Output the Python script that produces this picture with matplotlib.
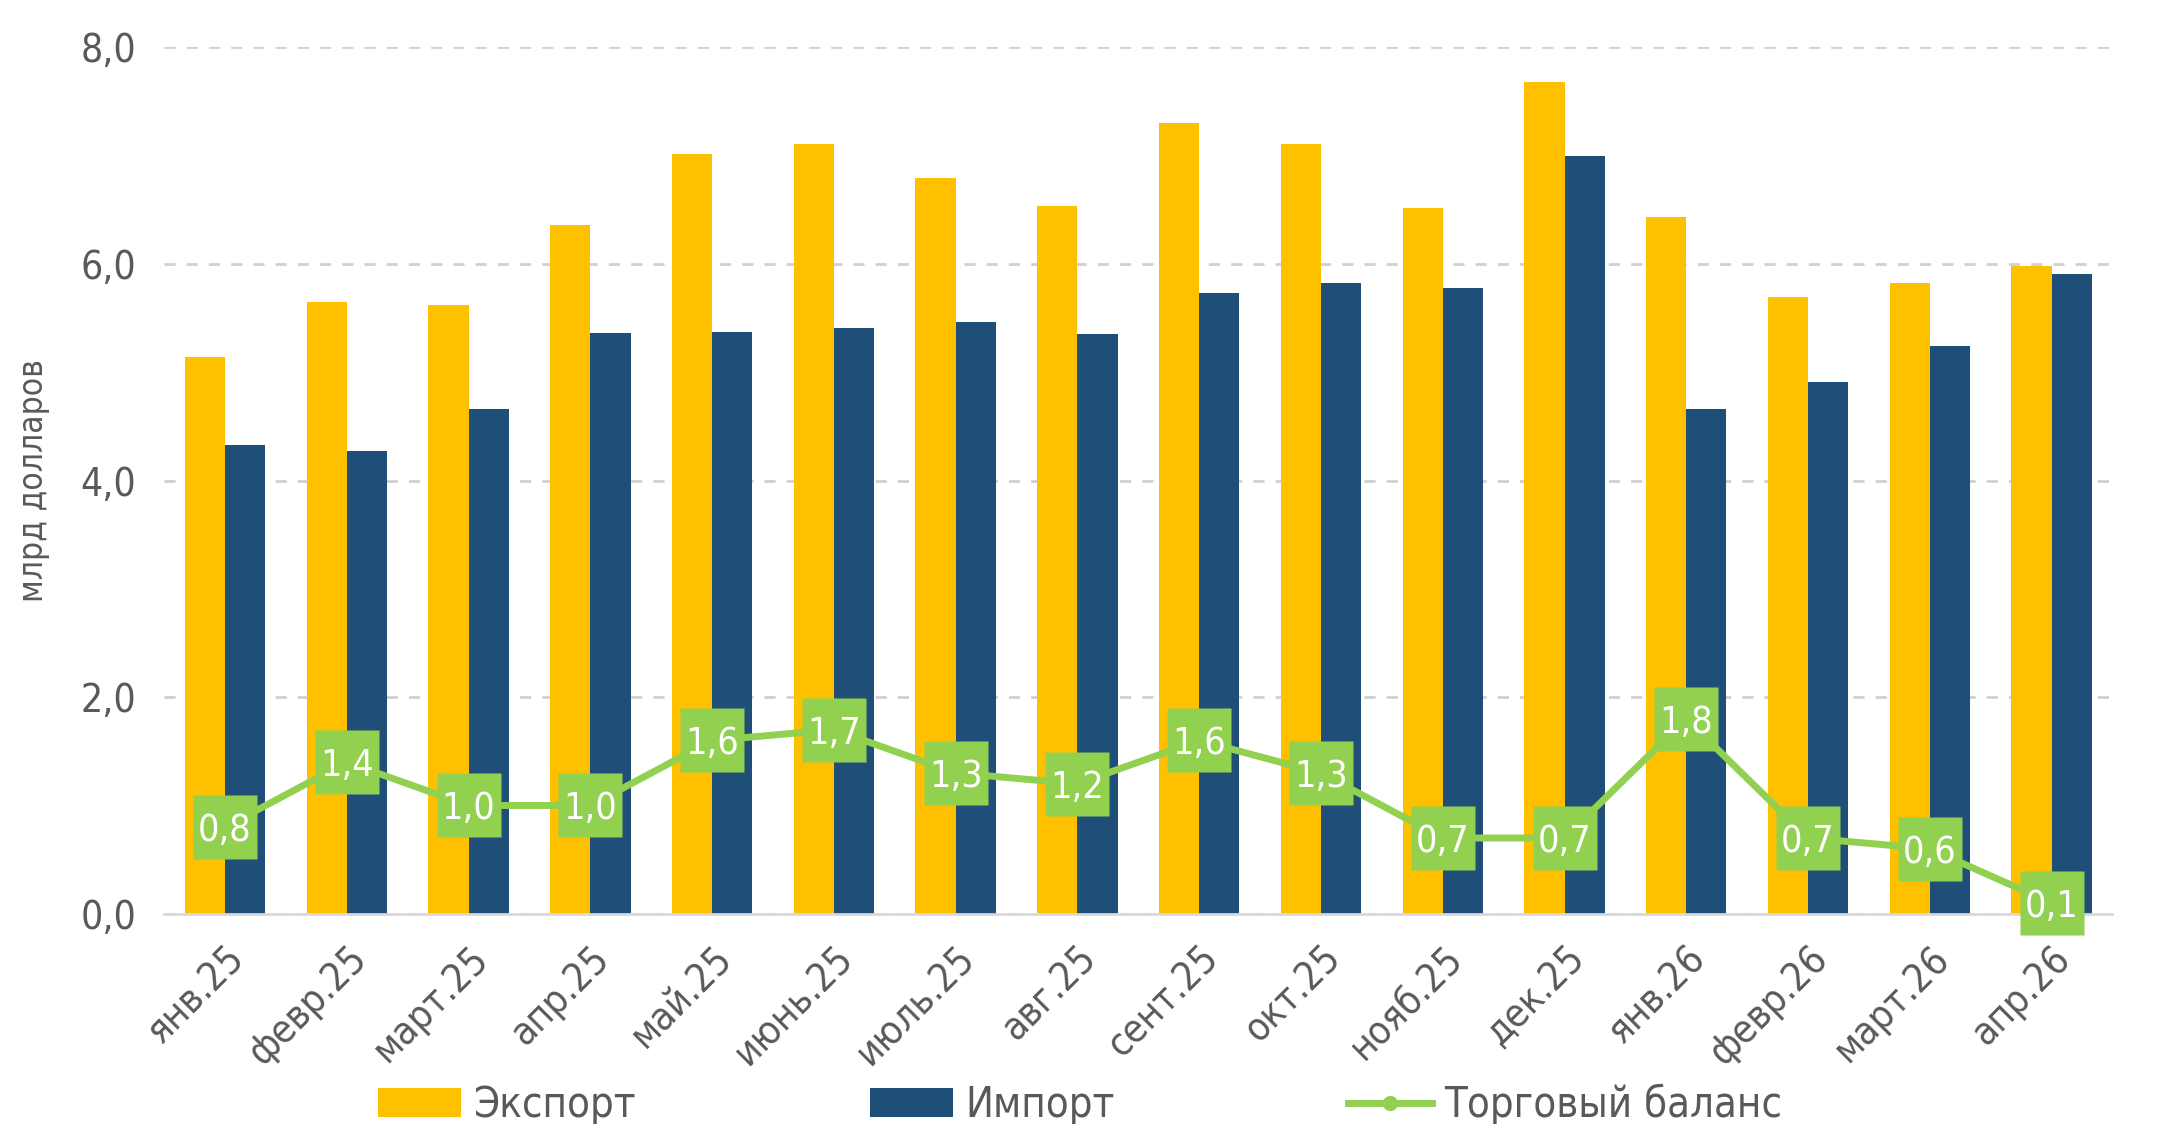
import matplotlib
matplotlib.use("Agg")
import matplotlib.pyplot as plt
import numpy as np
from matplotlib import font_manager

months = ['янв.25', 'февр.25', 'март.25', 'апр.25', 'май.25', 'июнь.25', 'июль.25', 'авг.25',
          'сент.25', 'окт.25', 'нояб.25', 'дек.25', 'янв.26', 'февр.26', 'март.26', 'апр.26']
export = [5.14, 5.65, 5.62, 6.36, 7.01, 7.11, 6.79, 6.53, 7.30, 7.11, 6.52, 7.68, 6.43, 5.69, 5.82, 5.98]
imports = [4.33, 4.27, 4.66, 5.36, 5.37, 5.41, 5.46, 5.35, 5.73, 5.82, 5.78, 7.00, 4.66, 4.91, 5.24, 5.91]
balance = [0.8, 1.4, 1.0, 1.0, 1.6, 1.7, 1.3, 1.2, 1.6, 1.3, 0.7, 0.7, 1.8, 0.7, 0.6, 0.1]

names = {f.name for f in font_manager.fontManager.ttflist}
if 'Liberation Sans Narrow' in names:
    plt.rcParams['font.family'] = ['Liberation Sans Narrow', 'DejaVu Sans']
else:
    plt.rcParams['font.family'] = ['DejaVu Sans']
    plt.rcParams['font.stretch'] = 'condensed'

grey = '#595959'
c_exp = '#FFC000'
c_imp = '#1F4E79'
c_bal = '#92D050'

fig = plt.figure(figsize=(21.6, 11.24), dpi=100)
ax = fig.add_axes([0.076, 0.187, 0.902, 0.771])

x = np.arange(len(months))
w = 0.33
b1 = ax.bar(x - w / 2, export, w, color=c_exp, label='Экспорт', zorder=2)
b2 = ax.bar(x + w / 2, imports, w, color=c_imp, label='Импорт', zorder=2)
l1, = ax.plot(x, balance, color=c_bal, lw=5, marker='o', ms=10, label='Торговый баланс', zorder=3)
# green label boxes
ax.plot(x, balance, ls='none', marker='s', ms=46, color=c_bal, mec='none', zorder=4, clip_on=False)

for xi, v in zip(x, balance):
    ax.text(xi, v, f'{v:.1f}'.replace('.', ','), ha='center', va='center_baseline', color='white',
            fontsize=27, zorder=5, clip_on=False)

ax.set_ylim(0, 8)
ax.set_xlim(-0.5, len(months) - 0.5)
ax.set_yticks([0, 2, 4, 6, 8])
ax.set_yticklabels(['0,0', '2,0', '4,0', '6,0', '8,0'])
ax.yaxis.grid(True, color='#d0d0d0', ls=(0, (4, 4)), lw=2)
ax.set_axisbelow(True)
for s in ['top', 'right', 'left']:
    ax.spines[s].set_visible(False)
ax.spines['bottom'].set_color('#d9d9d9')
ax.spines['bottom'].set_linewidth(2)
ax.tick_params(length=0, labelsize=28, colors=grey, pad=20)
ax.set_xticks(x)
ax.set_xticklabels(months, rotation=45, ha='right', rotation_mode='anchor')
ax.tick_params(axis='x', pad=18)
ax.set_ylabel('млрд долларов', fontsize=24, color=grey, labelpad=22)

fig.legend(handles=[b1, b2, l1], loc='center', bbox_to_anchor=(0.5, 0.017), ncol=3, frameon=False,
           fontsize=30, labelcolor=grey, columnspacing=5.6, handlelength=2.0,
           handletextpad=0.3)

fig.savefig('out.png', dpi=100)
